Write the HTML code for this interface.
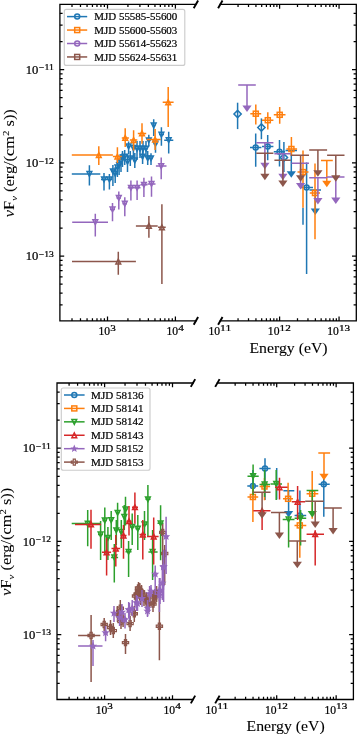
<!DOCTYPE html><html><head><meta charset="utf-8"><style>html,body{margin:0;padding:0;background:#fff;}svg{display:block;will-change:transform;}</style></head><body>
<svg width="357" height="734" viewBox="0 0 357 734">
<rect width="357" height="734" fill="#fff"/>
<g>
<path d="M89.4 165.2V185.4M71.8 174H100.3" stroke="#1f77b4" stroke-width="1.5" fill="none"/><path d="M87.03 171.62L91.78 171.62L89.4 176.38Z" stroke="#1f77b4" stroke-width="1.5" fill="none"/>
<path d="M104 173V190.4M101 179.5H107" stroke="#1f77b4" stroke-width="1.5" fill="none"/><path d="M101.62 177.12L106.38 177.12L104 181.88Z" stroke="#1f77b4" stroke-width="1.5" fill="none"/>
<path d="M109.4 174V189.5M107 179.5H112" stroke="#1f77b4" stroke-width="1.5" fill="none"/><path d="M107.03 177.12L111.78 177.12L109.4 181.88Z" stroke="#1f77b4" stroke-width="1.5" fill="none"/>
<path d="M112.9 165V186M111 171.3H115" stroke="#1f77b4" stroke-width="1.5" fill="none"/><path d="M110.53 168.93L115.28 168.93L112.9 173.68Z" stroke="#1f77b4" stroke-width="1.5" fill="none"/>
<path d="M115.2 167V183M113.5 173.6H117" stroke="#1f77b4" stroke-width="1.5" fill="none"/><path d="M112.83 171.22L117.58 171.22L115.2 175.97Z" stroke="#1f77b4" stroke-width="1.5" fill="none"/>
<path d="M117.4 160V177M116 167.4H119" stroke="#1f77b4" stroke-width="1.5" fill="none"/><path d="M115.03 165.03L119.78 165.03L117.4 169.78Z" stroke="#1f77b4" stroke-width="1.5" fill="none"/>
<path d="M119.1 158V175M117.5 165.2H120.5" stroke="#1f77b4" stroke-width="1.5" fill="none"/><path d="M116.72 162.82L121.47 162.82L119.1 167.57Z" stroke="#1f77b4" stroke-width="1.5" fill="none"/>
<path d="M121 154V172M119.5 161.8H122.5" stroke="#1f77b4" stroke-width="1.5" fill="none"/><path d="M118.62 159.43L123.38 159.43L121 164.18Z" stroke="#1f77b4" stroke-width="1.5" fill="none"/>
<path d="M122.5 151V167M121 157.7H124" stroke="#1f77b4" stroke-width="1.5" fill="none"/><path d="M120.12 155.32L124.88 155.32L122.5 160.07Z" stroke="#1f77b4" stroke-width="1.5" fill="none"/>
<path d="M124.7 150V165M123 156.6H126.5" stroke="#1f77b4" stroke-width="1.5" fill="none"/><path d="M122.33 154.22L127.08 154.22L124.7 158.97Z" stroke="#1f77b4" stroke-width="1.5" fill="none"/>
<path d="M127.5 154V172M126 161.8H129" stroke="#1f77b4" stroke-width="1.5" fill="none"/><path d="M125.12 159.43L129.88 159.43L127.5 164.18Z" stroke="#1f77b4" stroke-width="1.5" fill="none"/>
<path d="M128.6 141.4V154.3M127 146.5H130.5" stroke="#1f77b4" stroke-width="1.5" fill="none"/><path d="M126.22 144.12L130.97 144.12L128.6 148.88Z" stroke="#1f77b4" stroke-width="1.5" fill="none"/>
<path d="M130.3 151V166M129 158.3H132" stroke="#1f77b4" stroke-width="1.5" fill="none"/><path d="M127.93 155.93L132.68 155.93L130.3 160.68Z" stroke="#1f77b4" stroke-width="1.5" fill="none"/>
<path d="M133.4 141V158M132 148H135" stroke="#1f77b4" stroke-width="1.5" fill="none"/><path d="M131.03 145.62L135.78 145.62L133.4 150.38Z" stroke="#1f77b4" stroke-width="1.5" fill="none"/>
<path d="M134.8 153V168M133 160.5H136.5" stroke="#1f77b4" stroke-width="1.5" fill="none"/><path d="M132.43 158.12L137.18 158.12L134.8 162.88Z" stroke="#1f77b4" stroke-width="1.5" fill="none"/>
<path d="M137 141V160M135.5 148.7H138.5" stroke="#1f77b4" stroke-width="1.5" fill="none"/><path d="M134.62 146.32L139.38 146.32L137 151.07Z" stroke="#1f77b4" stroke-width="1.5" fill="none"/>
<path d="M140 141V158M138.5 148.7H141.5" stroke="#1f77b4" stroke-width="1.5" fill="none"/><path d="M137.62 146.32L142.38 146.32L140 151.07Z" stroke="#1f77b4" stroke-width="1.5" fill="none"/>
<path d="M142.6 149V164M141 156.6H144" stroke="#1f77b4" stroke-width="1.5" fill="none"/><path d="M140.22 154.22L144.97 154.22L142.6 158.97Z" stroke="#1f77b4" stroke-width="1.5" fill="none"/>
<path d="M143 141V157M141.5 148.7H144.5" stroke="#1f77b4" stroke-width="1.5" fill="none"/><path d="M140.62 146.32L145.38 146.32L143 151.07Z" stroke="#1f77b4" stroke-width="1.5" fill="none"/>
<path d="M146 141V156M144.5 148.7H147.5" stroke="#1f77b4" stroke-width="1.5" fill="none"/><path d="M143.62 146.32L148.38 146.32L146 151.07Z" stroke="#1f77b4" stroke-width="1.5" fill="none"/>
<path d="M147.7 151V165M146 158.3H149.5" stroke="#1f77b4" stroke-width="1.5" fill="none"/><path d="M145.32 155.93L150.07 155.93L147.7 160.68Z" stroke="#1f77b4" stroke-width="1.5" fill="none"/>
<path d="M148.8 134.7V146.5M147 140.3H150.5" stroke="#1f77b4" stroke-width="1.5" fill="none"/><path d="M146.43 137.93L151.18 137.93L148.8 142.68Z" stroke="#1f77b4" stroke-width="1.5" fill="none"/>
<path d="M151 153.2V165M149.5 158.3H152.5" stroke="#1f77b4" stroke-width="1.5" fill="none"/><path d="M148.62 155.93L153.38 155.93L151 160.68Z" stroke="#1f77b4" stroke-width="1.5" fill="none"/>
<path d="M153.7 119.2V136M152 125.5H155.5" stroke="#1f77b4" stroke-width="1.5" fill="none"/><path d="M151.32 123.12L156.07 123.12L153.7 127.88Z" stroke="#1f77b4" stroke-width="1.5" fill="none"/>
<path d="M155.5 138.8V152.8M153.5 143.7H157.5" stroke="#1f77b4" stroke-width="1.5" fill="none"/><path d="M153.12 141.32L157.88 141.32L155.5 146.07Z" stroke="#1f77b4" stroke-width="1.5" fill="none"/>
<path d="M161.4 127.3V145.8M159 134.6H164" stroke="#1f77b4" stroke-width="1.5" fill="none"/><path d="M159.03 132.22L163.78 132.22L161.4 136.97Z" stroke="#1f77b4" stroke-width="1.5" fill="none"/>
<path d="M168.7 131.8V153.5M164.2 140.2H173.3" stroke="#1f77b4" stroke-width="1.5" fill="none"/><path d="M166.32 137.82L171.07 137.82L168.7 142.57Z" stroke="#1f77b4" stroke-width="1.5" fill="none"/>
<path d="M98.8 146.2V165.1M71.8 155H112.9" stroke="#ff7f0e" stroke-width="1.5" fill="none"/><path d="M96.42 157.38L101.17 157.38L98.8 152.62Z" stroke="#ff7f0e" stroke-width="1.5" fill="none"/>
<path d="M117.4 147.2V162.9M112.9 156.6H121.8" stroke="#ff7f0e" stroke-width="1.5" fill="none"/><path d="M115.03 158.97L119.78 158.97L117.4 154.22Z" stroke="#ff7f0e" stroke-width="1.5" fill="none"/>
<path d="M125.2 128.3V147.1M121.8 137.9H128.9" stroke="#ff7f0e" stroke-width="1.5" fill="none"/><path d="M122.83 140.28L127.58 140.28L125.2 135.53Z" stroke="#ff7f0e" stroke-width="1.5" fill="none"/>
<path d="M133.6 130.3V150.5M129.9 140H137.3" stroke="#ff7f0e" stroke-width="1.5" fill="none"/><path d="M131.22 142.38L135.97 142.38L133.6 137.62Z" stroke="#ff7f0e" stroke-width="1.5" fill="none"/>
<path d="M142 123.2V143.7M137.8 133.4H146.2" stroke="#ff7f0e" stroke-width="1.5" fill="none"/><path d="M139.62 135.78L144.38 135.78L142 131.03Z" stroke="#ff7f0e" stroke-width="1.5" fill="none"/>
<path d="M155.1 129V150M146.7 139.5H160.7" stroke="#ff7f0e" stroke-width="1.5" fill="none"/><path d="M152.72 141.88L157.47 141.88L155.1 137.12Z" stroke="#ff7f0e" stroke-width="1.5" fill="none"/>
<path d="M168.2 87V127M162.7 102.3H173.6" stroke="#ff7f0e" stroke-width="1.5" fill="none"/><path d="M165.82 104.67L170.57 104.67L168.2 99.92Z" stroke="#ff7f0e" stroke-width="1.5" fill="none"/>
<path d="M95.3 213.7V236.5M72.2 222.2H108" stroke="#9467bd" stroke-width="1.5" fill="none"/><path d="M92.92 219.82L97.67 219.82L95.3 224.57Z" stroke="#9467bd" stroke-width="1.5" fill="none"/>
<path d="M112.5 203.1V221.2M110 209.4H115" stroke="#9467bd" stroke-width="1.5" fill="none"/><path d="M110.12 207.03L114.88 207.03L112.5 211.78Z" stroke="#9467bd" stroke-width="1.5" fill="none"/>
<path d="M118.8 191.4V209.4M116.5 198H121" stroke="#9467bd" stroke-width="1.5" fill="none"/><path d="M116.42 195.62L121.17 195.62L118.8 200.38Z" stroke="#9467bd" stroke-width="1.5" fill="none"/>
<path d="M124.8 197.3V216.3M122.5 203.7H127" stroke="#9467bd" stroke-width="1.5" fill="none"/><path d="M122.42 201.32L127.17 201.32L124.8 206.07Z" stroke="#9467bd" stroke-width="1.5" fill="none"/>
<path d="M130.9 180.5V200.6M127.8 187.8H134.1" stroke="#9467bd" stroke-width="1.5" fill="none"/><path d="M128.53 185.43L133.28 185.43L130.9 190.18Z" stroke="#9467bd" stroke-width="1.5" fill="none"/>
<path d="M137.1 180.4V200M134.1 187.8H140.5" stroke="#9467bd" stroke-width="1.5" fill="none"/><path d="M134.72 185.43L139.47 185.43L137.1 190.18Z" stroke="#9467bd" stroke-width="1.5" fill="none"/>
<path d="M143.9 177.7V197M140.5 184.8H147.5" stroke="#9467bd" stroke-width="1.5" fill="none"/><path d="M141.53 182.43L146.28 182.43L143.9 187.18Z" stroke="#9467bd" stroke-width="1.5" fill="none"/>
<path d="M151.5 176.6V196.7M147.5 183.9H155.5" stroke="#9467bd" stroke-width="1.5" fill="none"/><path d="M149.12 181.53L153.88 181.53L151.5 186.28Z" stroke="#9467bd" stroke-width="1.5" fill="none"/>
<path d="M161.2 157.6V179.2M155.9 166.1H166.5" stroke="#9467bd" stroke-width="1.5" fill="none"/><path d="M158.82 163.72L163.57 163.72L161.2 168.47Z" stroke="#9467bd" stroke-width="1.5" fill="none"/>
<path d="M118.3 251.7V274.7M72 261.5H135.9" stroke="#8c564b" stroke-width="1.5" fill="none"/><path d="M115.92 263.88L120.67 263.88L118.3 259.12Z" stroke="#8c564b" stroke-width="1.5" fill="none"/>
<path d="M148.9 216.1V237.8M135.9 225.9H157.7" stroke="#8c564b" stroke-width="1.5" fill="none"/><path d="M146.53 228.28L151.28 228.28L148.9 223.53Z" stroke="#8c564b" stroke-width="1.5" fill="none"/>
<path d="M161.9 204.2V284M158 227.3H165.7" stroke="#8c564b" stroke-width="1.5" fill="none"/><path d="M159.53 229.68L164.28 229.68L161.9 224.93Z" stroke="#8c564b" stroke-width="1.5" fill="none"/>
<path d="M285.5 150.5H297M291.3 150.5V173.7" stroke="#1f77b4" stroke-width="1.5" fill="none"/><path d="M286.7 171.2L295.9 171.2L291.3 177.7Z" fill="#1f77b4"/>
<path d="M309.5 190H321M315.3 190V211" stroke="#1f77b4" stroke-width="1.5" fill="none"/><path d="M310.7 208.5L319.9 208.5L315.3 215Z" fill="#1f77b4"/>
<path d="M303 207.7V224.7" stroke="#1f77b4" stroke-width="1.5"/>
<path d="M237.6 102.7V129.1" stroke="#1f77b4" stroke-width="1.5" fill="none"/><path d="M233.97 114L237.6 110.38L241.22 114L237.6 117.62Z" stroke="#1f77b4" stroke-width="1.5" fill="none"/>
<path d="M261.4 118.4V139.2" stroke="#1f77b4" stroke-width="1.5" fill="none"/><path d="M257.77 127.5L261.4 123.88L265.02 127.5L261.4 131.12Z" stroke="#1f77b4" stroke-width="1.5" fill="none"/>
<path d="M283.9 142V172" stroke="#1f77b4" stroke-width="1.5" fill="none"/><path d="M280.27 157.5L283.9 153.88L287.52 157.5L283.9 161.12Z" stroke="#1f77b4" stroke-width="1.5" fill="none"/>
<path d="M255.7 133.5V166.7M250 147.5H261.4" stroke="#1f77b4" stroke-width="1.5" fill="none"/><circle cx="255.7" cy="147.5" r="2.5" stroke="#1f77b4" stroke-width="1.5" fill="none"/>
<path d="M267.7 135V160.2M262 146.4H273.4" stroke="#1f77b4" stroke-width="1.5" fill="none"/><circle cx="267.7" cy="146.4" r="2.5" stroke="#1f77b4" stroke-width="1.5" fill="none"/>
<path d="M279.5 140.1V166.6M273.8 151.7H285.1" stroke="#1f77b4" stroke-width="1.5" fill="none"/><circle cx="279.5" cy="151.7" r="2.5" stroke="#1f77b4" stroke-width="1.5" fill="none"/>
<path d="M306.6 162.6V273.9M300.2 187.5H313" stroke="#1f77b4" stroke-width="1.5" fill="none"/><circle cx="306.6" cy="187.5" r="2.5" stroke="#1f77b4" stroke-width="1.5" fill="none"/>
<path d="M321 160.5H332.8M326.8 160.5V183.2" stroke="#ff7f0e" stroke-width="1.5" fill="none"/><path d="M322.2 180.7L331.4 180.7L326.8 187.2Z" fill="#ff7f0e"/>
<path d="M255.8 104.4V124.6M250.3 113.7H261.2" stroke="#ff7f0e" stroke-width="1.5" fill="none"/><rect x="253.3" y="111.2" width="5" height="5" stroke="#ff7f0e" stroke-width="1.5" fill="none"/>
<path d="M267.8 112.3V129.6M262 120.2H273.4" stroke="#ff7f0e" stroke-width="1.5" fill="none"/><rect x="265.3" y="117.7" width="5" height="5" stroke="#ff7f0e" stroke-width="1.5" fill="none"/>
<path d="M279.7 106.9V123.7M273.8 114.8H285.5" stroke="#ff7f0e" stroke-width="1.5" fill="none"/><rect x="277.2" y="112.3" width="5" height="5" stroke="#ff7f0e" stroke-width="1.5" fill="none"/>
<path d="M291.4 137V156M286.4 149H297.1" stroke="#ff7f0e" stroke-width="1.5" fill="none"/><rect x="288.9" y="146.5" width="5" height="5" stroke="#ff7f0e" stroke-width="1.5" fill="none"/>
<path d="M303 150.4V207.7M297.5 172.1H308.5" stroke="#ff7f0e" stroke-width="1.5" fill="none"/><rect x="300.5" y="169.6" width="5" height="5" stroke="#ff7f0e" stroke-width="1.5" fill="none"/>
<path d="M315 163.4V239.2M309.8 193H320" stroke="#ff7f0e" stroke-width="1.5" fill="none"/><rect x="312.5" y="190.5" width="5" height="5" stroke="#ff7f0e" stroke-width="1.5" fill="none"/>
<path d="M238.2 85.1H255.8M247 85.1V108" stroke="#9467bd" stroke-width="1.5" fill="none"/><path d="M242.4 105.5L251.6 105.5L247 112Z" fill="#9467bd"/>
<path d="M256.3 142.7H273.4M264.9 142.7V165.3" stroke="#9467bd" stroke-width="1.5" fill="none"/><path d="M260.3 162.8L269.5 162.8L264.9 169.3Z" fill="#9467bd"/>
<path d="M274.4 153.8H290.8M282.9 153.8V176.2" stroke="#9467bd" stroke-width="1.5" fill="none"/><path d="M278.3 173.7L287.5 173.7L282.9 180.2Z" fill="#9467bd"/>
<path d="M291.5 163.3H309M300.6 163.3V185.5" stroke="#9467bd" stroke-width="1.5" fill="none"/><path d="M296 183L305.2 183L300.6 189.5Z" fill="#9467bd"/>
<path d="M309.2 177.8H327M317.9 177.8V200.5" stroke="#9467bd" stroke-width="1.5" fill="none"/><path d="M313.3 198L322.5 198L317.9 204.5Z" fill="#9467bd"/>
<path d="M327 177H344.5M335.8 177V199.9" stroke="#9467bd" stroke-width="1.5" fill="none"/><path d="M331.2 197.4L340.4 197.4L335.8 203.9Z" fill="#9467bd"/>
<path d="M256.3 153.3H273.4M264.9 153.3V176.2" stroke="#8c564b" stroke-width="1.5" fill="none"/><path d="M260.3 173.7L269.5 173.7L264.9 180.2Z" fill="#8c564b"/>
<path d="M274.4 160.3H290.8M282.9 160.3V182.9" stroke="#8c564b" stroke-width="1.5" fill="none"/><path d="M278.3 180.4L287.5 180.4L282.9 186.9Z" fill="#8c564b"/>
<path d="M290.8 155.3H309M300.6 155.3V177.7" stroke="#8c564b" stroke-width="1.5" fill="none"/><path d="M296 175.2L305.2 175.2L300.6 181.7Z" fill="#8c564b"/>
<path d="M309.2 150.1H327.1M317.9 150.1V172.8" stroke="#8c564b" stroke-width="1.5" fill="none"/><path d="M313.3 170.3L322.5 170.3L317.9 176.8Z" fill="#8c564b"/>
<path d="M327.1 155.3H344.5M335.8 155.3V177.7" stroke="#8c564b" stroke-width="1.5" fill="none"/><path d="M331.2 175.2L340.4 175.2L335.8 181.7Z" fill="#8c564b"/>
</g>
<g>
<path d="M87.7 510V546.2M71.7 523.6H100" stroke="#2ca02c" stroke-width="1.5" fill="none"/><path d="M85.33 521.23L90.08 521.23L87.7 525.98Z" stroke="#2ca02c" stroke-width="1.5" fill="none"/>
<path d="M114.3 544V582.6M111.1 557.4H118.1" stroke="#2ca02c" stroke-width="1.5" fill="none"/><path d="M111.92 555.02L116.67 555.02L114.3 559.77Z" stroke="#2ca02c" stroke-width="1.5" fill="none"/>
<path d="M128.6 541V577M125.5 551.8H131.5" stroke="#2ca02c" stroke-width="1.5" fill="none"/><path d="M126.22 549.42L130.97 549.42L128.6 554.17Z" stroke="#2ca02c" stroke-width="1.5" fill="none"/>
<path d="M100.6 521V560M98 534.5H103" stroke="#2ca02c" stroke-width="1.5" fill="none"/><path d="M98.22 532.12L102.97 532.12L100.6 536.88Z" stroke="#2ca02c" stroke-width="1.5" fill="none"/>
<path d="M104.8 507.6V555M102.5 520.5H107" stroke="#2ca02c" stroke-width="1.5" fill="none"/><path d="M102.42 518.12L107.17 518.12L104.8 522.88Z" stroke="#2ca02c" stroke-width="1.5" fill="none"/>
<path d="M107.9 527V560M106 537.8H110" stroke="#2ca02c" stroke-width="1.5" fill="none"/><path d="M105.53 535.42L110.28 535.42L107.9 540.17Z" stroke="#2ca02c" stroke-width="1.5" fill="none"/>
<path d="M111.2 511V540M109.5 520.2H113" stroke="#2ca02c" stroke-width="1.5" fill="none"/><path d="M108.83 517.83L113.58 517.83L111.2 522.58Z" stroke="#2ca02c" stroke-width="1.5" fill="none"/>
<path d="M116.3 520V545M114.5 530.3H118" stroke="#2ca02c" stroke-width="1.5" fill="none"/><path d="M113.92 527.92L118.67 527.92L116.3 532.67Z" stroke="#2ca02c" stroke-width="1.5" fill="none"/>
<path d="M117.6 502.7V530M116 512.8H119.5" stroke="#2ca02c" stroke-width="1.5" fill="none"/><path d="M115.22 510.42L119.97 510.42L117.6 515.17Z" stroke="#2ca02c" stroke-width="1.5" fill="none"/>
<path d="M121.3 520V548M119.5 531.9H123" stroke="#2ca02c" stroke-width="1.5" fill="none"/><path d="M118.92 529.52L123.67 529.52L121.3 534.27Z" stroke="#2ca02c" stroke-width="1.5" fill="none"/>
<path d="M124.3 505V530M123 517H126" stroke="#2ca02c" stroke-width="1.5" fill="none"/><path d="M121.92 514.62L126.67 514.62L124.3 519.38Z" stroke="#2ca02c" stroke-width="1.5" fill="none"/>
<path d="M125.5 496.8V525.4M124 509.4H127.5" stroke="#2ca02c" stroke-width="1.5" fill="none"/><path d="M123.12 507.02L127.88 507.02L125.5 511.77Z" stroke="#2ca02c" stroke-width="1.5" fill="none"/>
<path d="M132.2 513.6V545M130 527H134.5" stroke="#2ca02c" stroke-width="1.5" fill="none"/><path d="M129.82 524.62L134.57 524.62L132.2 529.38Z" stroke="#2ca02c" stroke-width="1.5" fill="none"/>
<path d="M137.8 515V550M135.5 528.7H140" stroke="#2ca02c" stroke-width="1.5" fill="none"/><path d="M135.43 526.33L140.18 526.33L137.8 531.08Z" stroke="#2ca02c" stroke-width="1.5" fill="none"/>
<path d="M144.5 511.1V540M142 524.5H147" stroke="#2ca02c" stroke-width="1.5" fill="none"/><path d="M142.12 522.12L146.88 522.12L144.5 526.88Z" stroke="#2ca02c" stroke-width="1.5" fill="none"/>
<path d="M147.9 485V537M145.5 499.3H150.5" stroke="#2ca02c" stroke-width="1.5" fill="none"/><path d="M145.53 496.93L150.28 496.93L147.9 501.68Z" stroke="#2ca02c" stroke-width="1.5" fill="none"/>
<path d="M152.6 530V580M148.4 552H157.6" stroke="#2ca02c" stroke-width="1.5" fill="none"/><path d="M150.22 549.62L154.97 549.62L152.6 554.38Z" stroke="#2ca02c" stroke-width="1.5" fill="none"/>
<path d="M160.6 505.2V560.3M157.5 523.3H163.5" stroke="#2ca02c" stroke-width="1.5" fill="none"/><path d="M158.22 520.92L162.97 520.92L160.6 525.67Z" stroke="#2ca02c" stroke-width="1.5" fill="none"/>
<path d="M91 509.7V548.7M75 524.4H101.1" stroke="#d62728" stroke-width="1.5" fill="none"/><path d="M88.62 526.77L93.38 526.77L91 522.02Z" stroke="#d62728" stroke-width="1.5" fill="none"/>
<path d="M106.6 538V575.6M102 552.3H111.1" stroke="#d62728" stroke-width="1.5" fill="none"/><path d="M104.22 554.67L108.97 554.67L106.6 549.92Z" stroke="#d62728" stroke-width="1.5" fill="none"/>
<path d="M115.8 535V566.5M111.5 548.5H120.2" stroke="#d62728" stroke-width="1.5" fill="none"/><path d="M113.42 550.88L118.17 550.88L115.8 546.12Z" stroke="#d62728" stroke-width="1.5" fill="none"/>
<path d="M123.5 525V558.8M120.5 535.5H126.5" stroke="#d62728" stroke-width="1.5" fill="none"/><path d="M121.12 537.88L125.88 537.88L123.5 533.12Z" stroke="#d62728" stroke-width="1.5" fill="none"/>
<path d="M129 506V535.5M126.5 521.2H131.5" stroke="#d62728" stroke-width="1.5" fill="none"/><path d="M126.62 523.58L131.38 523.58L129 518.83Z" stroke="#d62728" stroke-width="1.5" fill="none"/>
<path d="M134.9 492.6V523.7M132 507.2H138" stroke="#d62728" stroke-width="1.5" fill="none"/><path d="M132.53 509.57L137.28 509.57L134.9 504.82Z" stroke="#d62728" stroke-width="1.5" fill="none"/>
<path d="M142.8 520V559.5M139.5 534.6H146" stroke="#d62728" stroke-width="1.5" fill="none"/><path d="M140.43 536.98L145.18 536.98L142.8 532.23Z" stroke="#d62728" stroke-width="1.5" fill="none"/>
<path d="M153.7 517.4V564.4M147 536.5H158.6" stroke="#d62728" stroke-width="1.5" fill="none"/><path d="M151.32 538.88L156.07 538.88L153.7 534.12Z" stroke="#d62728" stroke-width="1.5" fill="none"/>
<path d="M91.1 615V682M78.1 635.5H100.3" stroke="#8c564b" stroke-width="1.5" fill="none"/><path d="M90.01 632.38H92.19V634.41H94.22V636.59H92.19V638.62H90.01V636.59H87.98V634.41H90.01Z" fill="none" stroke="#8c564b" stroke-width="1.2"/>
<path d="M104.2 618V631M102 624.5H106.5" stroke="#8c564b" stroke-width="1.5" fill="none"/><path d="M103.11 621.38H105.29V623.41H107.32V625.59H105.29V627.62H103.11V625.59H101.08V623.41H103.11Z" fill="none" stroke="#8c564b" stroke-width="1.2"/>
<path d="M110.5 620V635M108.5 627.5H112.5" stroke="#8c564b" stroke-width="1.5" fill="none"/><path d="M109.41 624.38H111.59V626.41H113.62V628.59H111.59V630.62H109.41V628.59H107.38V626.41H109.41Z" fill="none" stroke="#8c564b" stroke-width="1.2"/>
<path d="M113.3 623V638M111.5 630.6H115" stroke="#8c564b" stroke-width="1.5" fill="none"/><path d="M112.21 627.48H114.39V629.51H116.42V631.69H114.39V633.72H112.21V631.69H110.18V629.51H112.21Z" fill="none" stroke="#8c564b" stroke-width="1.2"/>
<path d="M117.5 606V622M115.5 613.8H119.5" stroke="#8c564b" stroke-width="1.5" fill="none"/><path d="M116.41 610.68H118.59V612.71H120.62V614.89H118.59V616.92H116.41V614.89H114.38V612.71H116.41Z" fill="none" stroke="#8c564b" stroke-width="1.2"/>
<path d="M120.3 600V616M118.5 608.2H122" stroke="#8c564b" stroke-width="1.5" fill="none"/><path d="M119.21 605.08H121.39V607.11H123.42V609.29H121.39V611.32H119.21V609.29H117.18V607.11H119.21Z" fill="none" stroke="#8c564b" stroke-width="1.2"/>
<path d="M121 614V629M119 621.5H123" stroke="#8c564b" stroke-width="1.5" fill="none"/><path d="M119.91 618.38H122.09V620.41H124.12V622.59H122.09V624.62H119.91V622.59H117.88V620.41H119.91Z" fill="none" stroke="#8c564b" stroke-width="1.2"/>
<path d="M123.1 612V627M121 619.4H125" stroke="#8c564b" stroke-width="1.5" fill="none"/><path d="M122.01 616.28H124.19V618.31H126.22V620.49H124.19V622.52H122.01V620.49H119.98V618.31H122.01Z" fill="none" stroke="#8c564b" stroke-width="1.2"/>
<path d="M125.5 634V654M123.5 642.6H127.5" stroke="#8c564b" stroke-width="1.5" fill="none"/><path d="M124.41 639.48H126.59V641.51H128.62V643.69H126.59V645.72H124.41V643.69H122.38V641.51H124.41Z" fill="none" stroke="#8c564b" stroke-width="1.2"/>
<path d="M130.1 616V631M128 623.6H132" stroke="#8c564b" stroke-width="1.5" fill="none"/><path d="M129.01 620.48H131.19V622.51H133.22V624.69H131.19V626.72H129.01V624.69H126.98V622.51H129.01Z" fill="none" stroke="#8c564b" stroke-width="1.2"/>
<path d="M134.3 606V622M132.5 613.8H136.5" stroke="#8c564b" stroke-width="1.5" fill="none"/><path d="M133.21 610.68H135.39V612.71H137.42V614.89H135.39V616.92H133.21V614.89H131.18V612.71H133.21Z" fill="none" stroke="#8c564b" stroke-width="1.2"/>
<path d="M137.1 586V602M135 594.2H139" stroke="#8c564b" stroke-width="1.5" fill="none"/><path d="M136.01 591.08H138.19V593.11H140.22V595.29H138.19V597.32H136.01V595.29H133.98V593.11H136.01Z" fill="none" stroke="#8c564b" stroke-width="1.2"/>
<path d="M139.8 583V599M138 590.8H142" stroke="#8c564b" stroke-width="1.5" fill="none"/><path d="M138.71 587.68H140.89V589.71H142.92V591.89H140.89V593.92H138.71V591.89H136.68V589.71H138.71Z" fill="none" stroke="#8c564b" stroke-width="1.2"/>
<path d="M140.6 589V605M139 597H143" stroke="#8c564b" stroke-width="1.5" fill="none"/><path d="M139.51 593.88H141.69V595.91H143.72V598.09H141.69V600.12H139.51V598.09H137.48V595.91H139.51Z" fill="none" stroke="#8c564b" stroke-width="1.2"/>
<path d="M146.2 592V608M144 599.8H148" stroke="#8c564b" stroke-width="1.5" fill="none"/><path d="M145.11 596.68H147.29V598.71H149.32V600.89H147.29V602.92H145.11V600.89H143.08V598.71H145.11Z" fill="none" stroke="#8c564b" stroke-width="1.2"/>
<path d="M146.8 593V609M145 600.6H149" stroke="#8c564b" stroke-width="1.5" fill="none"/><path d="M145.71 597.48H147.89V599.51H149.92V601.69H147.89V603.72H145.71V601.69H143.68V599.51H145.71Z" fill="none" stroke="#8c564b" stroke-width="1.2"/>
<path d="M153.8 590V606M152 597.8H156" stroke="#8c564b" stroke-width="1.5" fill="none"/><path d="M152.71 594.68H154.89V596.71H156.92V598.89H154.89V600.92H152.71V598.89H150.68V596.71H152.71Z" fill="none" stroke="#8c564b" stroke-width="1.2"/>
<path d="M156.6 586V602M154.5 593.6H158.5" stroke="#8c564b" stroke-width="1.5" fill="none"/><path d="M155.51 590.48H157.69V592.51H159.72V594.69H157.69V596.72H155.51V594.69H153.48V592.51H155.51Z" fill="none" stroke="#8c564b" stroke-width="1.2"/>
<path d="M159.4 587V660.2M157.5 626.3H161.5" stroke="#8c564b" stroke-width="1.5" fill="none"/><path d="M158.31 623.18H160.49V625.21H162.52V627.39H160.49V629.42H158.31V627.39H156.28V625.21H158.31Z" fill="none" stroke="#8c564b" stroke-width="1.2"/>
<path d="M135.5 589V604M133.5 596H137.5" stroke="#8c564b" stroke-width="1.5" fill="none"/><path d="M134.41 592.88H136.59V594.91H138.62V597.09H136.59V599.12H134.41V597.09H132.38V594.91H134.41Z" fill="none" stroke="#8c564b" stroke-width="1.2"/>
<path d="M138.5 582V596M136.5 588H140.5" stroke="#8c564b" stroke-width="1.5" fill="none"/><path d="M137.41 584.88H139.59V586.91H141.62V589.09H139.59V591.12H137.41V589.09H135.38V586.91H137.41Z" fill="none" stroke="#8c564b" stroke-width="1.2"/>
<path d="M141.5 585V600M139.5 592H143.5" stroke="#8c564b" stroke-width="1.5" fill="none"/><path d="M140.41 588.88H142.59V590.91H144.62V593.09H142.59V595.12H140.41V593.09H138.38V590.91H140.41Z" fill="none" stroke="#8c564b" stroke-width="1.2"/>
<path d="M144 590V606M142 597H146" stroke="#8c564b" stroke-width="1.5" fill="none"/><path d="M142.91 593.88H145.09V595.91H147.12V598.09H145.09V600.12H142.91V598.09H140.88V595.91H142.91Z" fill="none" stroke="#8c564b" stroke-width="1.2"/>
<path d="M149 596V612M147 603H151" stroke="#8c564b" stroke-width="1.5" fill="none"/><path d="M147.91 599.88H150.09V601.91H152.12V604.09H150.09V606.12H147.91V604.09H145.88V601.91H147.91Z" fill="none" stroke="#8c564b" stroke-width="1.2"/>
<path d="M153 597V612M151 604H155" stroke="#8c564b" stroke-width="1.5" fill="none"/><path d="M151.91 600.88H154.09V602.91H156.12V605.09H154.09V607.12H151.91V605.09H149.88V602.91H151.91Z" fill="none" stroke="#8c564b" stroke-width="1.2"/>
<path d="M155 589V604M153 596H157" stroke="#8c564b" stroke-width="1.5" fill="none"/><path d="M153.91 592.88H156.09V594.91H158.12V597.09H156.09V599.12H153.91V597.09H151.88V594.91H153.91Z" fill="none" stroke="#8c564b" stroke-width="1.2"/>
<path d="M162.7 524V590M160.5 532.4H164.5" stroke="#8c564b" stroke-width="1.5" fill="none"/><path d="M161.61 529.28H163.79V531.31H165.82V533.49H163.79V535.52H161.61V533.49H159.58V531.31H161.61Z" fill="none" stroke="#8c564b" stroke-width="1.2"/>
<path d="M164.7 545V585M162.5 553.5H166.5" stroke="#8c564b" stroke-width="1.5" fill="none"/><path d="M163.61 550.38H165.79V552.41H167.82V554.59H165.79V556.62H163.61V554.59H161.58V552.41H163.61Z" fill="none" stroke="#8c564b" stroke-width="1.2"/>
<path d="M93 640V666M78.1 646H102.5" stroke="#9467bd" stroke-width="1.5" fill="none"/><path d="M93 643.2L93.74 644.98L95.66 645.13L94.2 646.39L94.65 648.27L93 647.26L91.35 648.27L91.8 646.39L90.34 645.13L92.26 644.98Z" fill="none" stroke="#9467bd" stroke-width="1.2" stroke-linejoin="miter"/>
<path d="M105.6 626V641.3M103 632.7H108" stroke="#9467bd" stroke-width="1.5" fill="none"/><path d="M105.6 629.9L106.34 631.68L108.26 631.83L106.8 633.09L107.25 634.97L105.6 633.96L103.95 634.97L104.4 633.09L102.94 631.83L104.86 631.68Z" fill="none" stroke="#9467bd" stroke-width="1.2" stroke-linejoin="miter"/>
<path d="M114 606V622M112 613.1H116" stroke="#9467bd" stroke-width="1.5" fill="none"/><path d="M114 610.3L114.74 612.08L116.66 612.23L115.2 613.49L115.65 615.37L114 614.36L112.35 615.37L112.8 613.49L111.34 612.23L113.26 612.08Z" fill="none" stroke="#9467bd" stroke-width="1.2" stroke-linejoin="miter"/>
<path d="M119.6 610V626M117.5 617.3H121.5" stroke="#9467bd" stroke-width="1.5" fill="none"/><path d="M119.6 614.5L120.34 616.28L122.26 616.43L120.8 617.69L121.25 619.57L119.6 618.56L117.95 619.57L118.4 617.69L116.94 616.43L118.86 616.28Z" fill="none" stroke="#9467bd" stroke-width="1.2" stroke-linejoin="miter"/>
<path d="M128.7 602V618M126.5 609.6H131" stroke="#9467bd" stroke-width="1.5" fill="none"/><path d="M128.7 606.8L129.44 608.58L131.36 608.73L129.9 609.99L130.35 611.87L128.7 610.86L127.05 611.87L127.5 609.99L126.04 608.73L127.96 608.58Z" fill="none" stroke="#9467bd" stroke-width="1.2" stroke-linejoin="miter"/>
<path d="M132.2 600V616M130 608.2H134.5" stroke="#9467bd" stroke-width="1.5" fill="none"/><path d="M132.2 605.4L132.94 607.18L134.86 607.33L133.4 608.59L133.85 610.47L132.2 609.46L130.55 610.47L131 608.59L129.54 607.33L131.46 607.18Z" fill="none" stroke="#9467bd" stroke-width="1.2" stroke-linejoin="miter"/>
<path d="M136.4 595V611M134 602.6H138.5" stroke="#9467bd" stroke-width="1.5" fill="none"/><path d="M136.4 599.8L137.14 601.58L139.06 601.73L137.6 602.99L138.05 604.87L136.4 603.86L134.75 604.87L135.2 602.99L133.74 601.73L135.66 601.58Z" fill="none" stroke="#9467bd" stroke-width="1.2" stroke-linejoin="miter"/>
<path d="M142 590V607M140 598.4H144" stroke="#9467bd" stroke-width="1.5" fill="none"/><path d="M142 595.6L142.74 597.38L144.66 597.53L143.2 598.79L143.65 600.67L142 599.66L140.35 600.67L140.8 598.79L139.34 597.53L141.26 597.38Z" fill="none" stroke="#9467bd" stroke-width="1.2" stroke-linejoin="miter"/>
<path d="M147.6 600V616M145.5 608.2H149.5" stroke="#9467bd" stroke-width="1.5" fill="none"/><path d="M147.6 605.4L148.34 607.18L150.26 607.33L148.8 608.59L149.25 610.47L147.6 609.46L145.95 610.47L146.4 608.59L144.94 607.33L146.86 607.18Z" fill="none" stroke="#9467bd" stroke-width="1.2" stroke-linejoin="miter"/>
<path d="M149.6 586V602M147.5 593.6H151.5" stroke="#9467bd" stroke-width="1.5" fill="none"/><path d="M149.6 590.8L150.34 592.58L152.26 592.73L150.8 593.99L151.25 595.87L149.6 594.86L147.95 595.87L148.4 593.99L146.94 592.73L148.86 592.58Z" fill="none" stroke="#9467bd" stroke-width="1.2" stroke-linejoin="miter"/>
<path d="M155.2 565.6V595M153 574H157.5" stroke="#9467bd" stroke-width="1.5" fill="none"/><path d="M155.2 571.2L155.94 572.98L157.86 573.13L156.4 574.39L156.85 576.27L155.2 575.26L153.55 576.27L154 574.39L152.54 573.13L154.46 572.98Z" fill="none" stroke="#9467bd" stroke-width="1.2" stroke-linejoin="miter"/>
<path d="M159.4 584V601M157.5 592.2H161.5" stroke="#9467bd" stroke-width="1.5" fill="none"/><path d="M159.4 589.4L160.14 591.18L162.06 591.33L160.6 592.59L161.05 594.47L159.4 593.46L157.75 594.47L158.2 592.59L156.74 591.33L158.66 591.18Z" fill="none" stroke="#9467bd" stroke-width="1.2" stroke-linejoin="miter"/>
<path d="M163.6 550V602M161.5 566.3H165.5" stroke="#9467bd" stroke-width="1.5" fill="none"/><path d="M163.6 563.5L164.34 565.28L166.26 565.43L164.8 566.69L165.25 568.57L163.6 567.56L161.95 568.57L162.4 566.69L160.94 565.43L162.86 565.28Z" fill="none" stroke="#9467bd" stroke-width="1.2" stroke-linejoin="miter"/>
<path d="M166.1 516.7V574M164 536.5H168.5" stroke="#9467bd" stroke-width="1.5" fill="none"/><path d="M166.1 533.7L166.84 535.48L168.76 535.63L167.3 536.89L167.75 538.77L166.1 537.76L164.45 538.77L164.9 536.89L163.44 535.63L165.36 535.48Z" fill="none" stroke="#9467bd" stroke-width="1.2" stroke-linejoin="miter"/>
<path d="M163.4 555V590M161 567H165.5" stroke="#9467bd" stroke-width="1.5" fill="none"/><path d="M163.4 564.2L164.14 565.98L166.06 566.13L164.6 567.39L165.05 569.27L163.4 568.26L161.75 569.27L162.2 567.39L160.74 566.13L162.66 565.98Z" fill="none" stroke="#9467bd" stroke-width="1.2" stroke-linejoin="miter"/>
<path d="M125 612.7V628.4M123 619.6H127" stroke="#9467bd" stroke-width="1.5" fill="none"/><path d="M125 616.8L125.74 618.58L127.66 618.73L126.2 619.99L126.65 621.87L125 620.86L123.35 621.87L123.8 619.99L122.34 618.73L124.26 618.58Z" fill="none" stroke="#9467bd" stroke-width="1.2" stroke-linejoin="miter"/>
<path d="M129.4 603V620.6M127.5 609.8H131.5" stroke="#9467bd" stroke-width="1.5" fill="none"/><path d="M129.4 607L130.14 608.78L132.06 608.93L130.6 610.19L131.05 612.07L129.4 611.06L127.75 612.07L128.2 610.19L126.74 608.93L128.66 608.78Z" fill="none" stroke="#9467bd" stroke-width="1.2" stroke-linejoin="miter"/>
<path d="M137.5 596V611M135.5 603.5H139.5" stroke="#9467bd" stroke-width="1.5" fill="none"/><path d="M137.5 600.7L138.24 602.48L140.16 602.63L138.7 603.89L139.15 605.77L137.5 604.76L135.85 605.77L136.3 603.89L134.84 602.63L136.76 602.48Z" fill="none" stroke="#9467bd" stroke-width="1.2" stroke-linejoin="miter"/>
<path d="M147.5 605V617M145.5 611H149.5" stroke="#9467bd" stroke-width="1.5" fill="none"/><path d="M147.5 608.2L148.24 609.98L150.16 610.13L148.7 611.39L149.15 613.27L147.5 612.26L145.85 613.27L146.3 611.39L144.84 610.13L146.76 609.98Z" fill="none" stroke="#9467bd" stroke-width="1.2" stroke-linejoin="miter"/>
<path d="M151 585V597M149 591H153" stroke="#9467bd" stroke-width="1.5" fill="none"/><path d="M151 588.2L151.74 589.98L153.66 590.13L152.2 591.39L152.65 593.27L151 592.26L149.35 593.27L149.8 591.39L148.34 590.13L150.26 589.98Z" fill="none" stroke="#9467bd" stroke-width="1.2" stroke-linejoin="miter"/>
<path d="M160 578V604M158 590H162" stroke="#9467bd" stroke-width="1.5" fill="none"/><path d="M160 587.2L160.74 588.98L162.66 589.13L161.2 590.39L161.65 592.27L160 591.26L158.35 592.27L158.8 590.39L157.34 589.13L159.26 588.98Z" fill="none" stroke="#9467bd" stroke-width="1.2" stroke-linejoin="miter"/>
<path d="M122 604V622M120 612H124" stroke="#9467bd" stroke-width="1.5" fill="none"/><path d="M122 609.2L122.74 610.98L124.66 611.13L123.2 612.39L123.65 614.27L122 613.26L120.35 614.27L120.8 612.39L119.34 611.13L121.26 610.98Z" fill="none" stroke="#9467bd" stroke-width="1.2" stroke-linejoin="miter"/>
<path d="M159.4 578V612M157.5 595H161.5" stroke="#9467bd" stroke-width="1.5" fill="none"/><path d="M159.4 592.2L160.14 593.98L162.06 594.13L160.6 595.39L161.05 597.27L159.4 596.26L157.75 597.27L158.2 595.39L156.74 594.13L158.66 593.98Z" fill="none" stroke="#9467bd" stroke-width="1.2" stroke-linejoin="miter"/>
<path d="M162.4 566V600M160.5 583H164.5" stroke="#9467bd" stroke-width="1.5" fill="none"/><path d="M162.4 580.2L163.14 581.98L165.06 582.13L163.6 583.39L164.05 585.27L162.4 584.26L160.75 585.27L161.2 583.39L159.74 582.13L161.66 581.98Z" fill="none" stroke="#9467bd" stroke-width="1.2" stroke-linejoin="miter"/>
<path d="M276.7 468V499.5" stroke="#1f77b4" stroke-width="1.5"/>
<path d="M283.4 490.7H294.3M288.6 490.7V513.6" stroke="#1f77b4" stroke-width="1.5" fill="none"/><path d="M284 511.1L293.2 511.1L288.6 517.6Z" fill="#1f77b4"/>
<path d="M265 458.2V500M259.4 468.5H270.6" stroke="#1f77b4" stroke-width="1.5" fill="none"/><circle cx="265" cy="468.5" r="2.5" stroke="#1f77b4" stroke-width="1.5" fill="none"/>
<path d="M252.9 470V500M247.3 485.9H258.2" stroke="#1f77b4" stroke-width="1.5" fill="none"/><circle cx="252.9" cy="485.9" r="2.5" stroke="#1f77b4" stroke-width="1.5" fill="none"/>
<path d="M299.9 490.4V530M294.6 515.5H306.2" stroke="#1f77b4" stroke-width="1.5" fill="none"/><circle cx="299.9" cy="515.5" r="2.5" stroke="#1f77b4" stroke-width="1.5" fill="none"/>
<path d="M323.8 478V516.7M318.6 484.3H329.7" stroke="#1f77b4" stroke-width="1.5" fill="none"/><circle cx="323.8" cy="484.3" r="2.5" stroke="#1f77b4" stroke-width="1.5" fill="none"/>
<path d="M318.3 453H330.1M324 453V476.3" stroke="#ff7f0e" stroke-width="1.5" fill="none"/><path d="M319.4 473.8L328.6 473.8L324 480.3Z" fill="#ff7f0e"/>
<path d="M252.9 485V522M247.5 497H258.2" stroke="#ff7f0e" stroke-width="1.5" fill="none"/><rect x="250.4" y="494.5" width="5" height="5" stroke="#ff7f0e" stroke-width="1.5" fill="none"/>
<path d="M264.5 478V500.3M259.6 486.5H270.1" stroke="#ff7f0e" stroke-width="1.5" fill="none"/><rect x="262" y="484" width="5" height="5" stroke="#ff7f0e" stroke-width="1.5" fill="none"/>
<path d="M288.1 482.8V499.5M283 498.8H293" stroke="#ff7f0e" stroke-width="1.5" fill="none"/><rect x="285.6" y="496.3" width="5" height="5" stroke="#ff7f0e" stroke-width="1.5" fill="none"/>
<path d="M299.8 520V557.7M294.5 525.4H306.3" stroke="#ff7f0e" stroke-width="1.5" fill="none"/><rect x="297.3" y="522.9" width="5" height="5" stroke="#ff7f0e" stroke-width="1.5" fill="none"/>
<path d="M312.2 471V518.7M306.6 493.7H318.3" stroke="#ff7f0e" stroke-width="1.5" fill="none"/><rect x="309.7" y="491.2" width="5" height="5" stroke="#ff7f0e" stroke-width="1.5" fill="none"/>
<path d="M306.6 490.4H318.3M312.3 490.4V513.4" stroke="#2ca02c" stroke-width="1.5" fill="none"/><path d="M307.7 510.9L316.9 510.9L312.3 517.4Z" fill="#2ca02c"/>
<path d="M253.1 464.5V495M247.5 476.2H258.7" stroke="#2ca02c" stroke-width="1.5" fill="none"/><path d="M250.72 473.82L255.47 473.82L253.1 478.57Z" stroke="#2ca02c" stroke-width="1.5" fill="none"/>
<path d="M264.6 470V497M259.5 484.5H270" stroke="#2ca02c" stroke-width="1.5" fill="none"/><path d="M262.23 482.12L266.98 482.12L264.6 486.88Z" stroke="#2ca02c" stroke-width="1.5" fill="none"/>
<path d="M276.2 470.1V500M270.5 484H282" stroke="#2ca02c" stroke-width="1.5" fill="none"/><path d="M273.82 481.62L278.57 481.62L276.2 486.38Z" stroke="#2ca02c" stroke-width="1.5" fill="none"/>
<path d="M288.6 517V547.5M282.7 519.5H294.5" stroke="#2ca02c" stroke-width="1.5" fill="none"/><path d="M286.23 517.12L290.98 517.12L288.6 521.88Z" stroke="#2ca02c" stroke-width="1.5" fill="none"/>
<path d="M300.6 510V545.4M294.6 518.3H306.2" stroke="#2ca02c" stroke-width="1.5" fill="none"/><path d="M298.23 515.92L302.98 515.92L300.6 520.67Z" stroke="#2ca02c" stroke-width="1.5" fill="none"/>
<path d="M279.5 477.7V499.4M275 487.3H287.6" stroke="#d62728" stroke-width="1.5" fill="none"/><path d="M277.12 489.68L281.88 489.68L279.5 484.93Z" stroke="#d62728" stroke-width="1.5" fill="none"/>
<path d="M262.1 508.7V530M253.3 510.8H270.5" stroke="#d62728" stroke-width="1.5" fill="none"/><path d="M259.73 513.17L264.48 513.17L262.1 508.43Z" stroke="#d62728" stroke-width="1.5" fill="none"/>
<path d="M297.6 486.1V520M291.8 501.8H305.2" stroke="#d62728" stroke-width="1.5" fill="none"/><path d="M295.23 504.18L299.98 504.18L297.6 499.43Z" stroke="#d62728" stroke-width="1.5" fill="none"/>
<path d="M315.2 530.3V565.6M306.6 534.2H324" stroke="#d62728" stroke-width="1.5" fill="none"/><path d="M312.82 536.58L317.57 536.58L315.2 531.83Z" stroke="#d62728" stroke-width="1.5" fill="none"/>
<path d="M253.3 492.2H270.5M262.1 492.2V514.8" stroke="#8c564b" stroke-width="1.5" fill="none"/><path d="M257.5 512.3L266.7 512.3L262.1 518.8Z" fill="#8c564b"/>
<path d="M271 512.5H287M279.4 512.5V535.1" stroke="#8c564b" stroke-width="1.5" fill="none"/><path d="M274.8 532.6L284 532.6L279.4 539.1Z" fill="#8c564b"/>
<path d="M288.7 541H306.1M297.3 541V564.3" stroke="#8c564b" stroke-width="1.5" fill="none"/><path d="M292.7 561.8L301.9 561.8L297.3 568.3Z" fill="#8c564b"/>
<path d="M305.2 501.3H323.8M315.2 501.3V524.1" stroke="#8c564b" stroke-width="1.5" fill="none"/><path d="M310.6 521.6L319.8 521.6L315.2 528.1Z" fill="#8c564b"/>
<path d="M323.9 508.1H341.8M333.1 508.1V530.4" stroke="#8c564b" stroke-width="1.5" fill="none"/><path d="M328.5 527.9L337.7 527.9L333.1 534.4Z" fill="#8c564b"/>
</g>
<g transform="translate(0,0)">
<path d="M195.9 4.4 H59.9 M59.9 4.4 V320.9 H195.9" stroke="#000" stroke-width="1.3" fill="none" stroke-linecap="square"/>
<path d="M220.3 4.4 H356.3 V320.9 H220.3" stroke="#000" stroke-width="1.3" fill="none" stroke-linecap="square"/>
<path d="M59.9 304.86h2.7 M356.3 304.86h-2.7 M59.9 293.21h2.7 M356.3 293.21h-2.7 M59.9 284.17h2.7 M356.3 284.17h-2.7 M59.9 276.79h2.7 M356.3 276.79h-2.7 M59.9 270.54h2.7 M356.3 270.54h-2.7 M59.9 265.14h2.7 M356.3 265.14h-2.7 M59.9 260.37h2.7 M356.3 260.37h-2.7 M59.9 256.1h4.3 M356.3 256.1h-4.3 M59.9 228.03h2.7 M356.3 228.03h-2.7 M59.9 211.61h2.7 M356.3 211.61h-2.7 M59.9 199.96h2.7 M356.3 199.96h-2.7 M59.9 190.92h2.7 M356.3 190.92h-2.7 M59.9 183.54h2.7 M356.3 183.54h-2.7 M59.9 177.29h2.7 M356.3 177.29h-2.7 M59.9 171.89h2.7 M356.3 171.89h-2.7 M59.9 167.12h2.7 M356.3 167.12h-2.7 M59.9 162.85h4.3 M356.3 162.85h-4.3 M59.9 134.78h2.7 M356.3 134.78h-2.7 M59.9 118.36h2.7 M356.3 118.36h-2.7 M59.9 106.71h2.7 M356.3 106.71h-2.7 M59.9 97.67h2.7 M356.3 97.67h-2.7 M59.9 90.29h2.7 M356.3 90.29h-2.7 M59.9 84.04h2.7 M356.3 84.04h-2.7 M59.9 78.64h2.7 M356.3 78.64h-2.7 M59.9 73.87h2.7 M356.3 73.87h-2.7 M59.9 69.6h4.3 M356.3 69.6h-4.3 M59.9 41.53h2.7 M356.3 41.53h-2.7 M59.9 25.11h2.7 M356.3 25.11h-2.7 M59.9 13.46h2.7 M356.3 13.46h-2.7 M72 320.9v-2.7 M72 4.4v2.7 M80.48 320.9v-2.7 M80.48 4.4v2.7 M87.06 320.9v-2.7 M87.06 4.4v2.7 M92.44 320.9v-2.7 M92.44 4.4v2.7 M96.98 320.9v-2.7 M96.98 4.4v2.7 M100.92 320.9v-2.7 M100.92 4.4v2.7 M104.39 320.9v-2.7 M104.39 4.4v2.7 M107.5 320.9v-4.3 M107.5 4.4v4.3 M127.94 320.9v-2.7 M127.94 4.4v2.7 M139.9 320.9v-2.7 M139.9 4.4v2.7 M148.38 320.9v-2.7 M148.38 4.4v2.7 M154.96 320.9v-2.7 M154.96 4.4v2.7 M160.34 320.9v-2.7 M160.34 4.4v2.7 M164.88 320.9v-2.7 M164.88 4.4v2.7 M168.82 320.9v-2.7 M168.82 4.4v2.7 M172.29 320.9v-2.7 M172.29 4.4v2.7 M175.4 320.9v-4.3 M175.4 4.4v4.3 M238.05 320.9v-2.7 M238.05 4.4v2.7 M248.51 320.9v-2.7 M248.51 4.4v2.7 M255.94 320.9v-2.7 M255.94 4.4v2.7 M261.7 320.9v-2.7 M261.7 4.4v2.7 M266.41 320.9v-2.7 M266.41 4.4v2.7 M270.39 320.9v-2.7 M270.39 4.4v2.7 M273.84 320.9v-2.7 M273.84 4.4v2.7 M276.88 320.9v-2.7 M276.88 4.4v2.7 M279.6 320.9v-4.3 M279.6 4.4v4.3 M297.5 320.9v-2.7 M297.5 4.4v2.7 M307.96 320.9v-2.7 M307.96 4.4v2.7 M315.39 320.9v-2.7 M315.39 4.4v2.7 M321.15 320.9v-2.7 M321.15 4.4v2.7 M325.86 320.9v-2.7 M325.86 4.4v2.7 M329.84 320.9v-2.7 M329.84 4.4v2.7 M333.29 320.9v-2.7 M333.29 4.4v2.7 M336.33 320.9v-2.7 M336.33 4.4v2.7 M339.05 320.9v-4.3 M339.05 4.4v4.3" stroke="#000" stroke-width="1.25" fill="none"/>
<line x1="193.7" y1="8.3" x2="198.1" y2="0.5" stroke="#000" stroke-width="1.9" stroke-linecap="butt"/>
<line x1="193.7" y1="324.8" x2="198.1" y2="317" stroke="#000" stroke-width="1.9" stroke-linecap="butt"/>
<line x1="218.1" y1="8.3" x2="222.5" y2="0.5" stroke="#000" stroke-width="1.9" stroke-linecap="butt"/>
<line x1="218.1" y1="324.8" x2="222.5" y2="317" stroke="#000" stroke-width="1.9" stroke-linecap="butt"/>
<text x="98.55" y="335.0" font-size="11.8" font-family="Liberation Serif, serif" fill="#000" stroke="#000" stroke-width="0.22" textLength="11.6" lengthAdjust="spacingAndGlyphs">10</text>
<text x="110.25" y="330.6" font-size="8.4" font-family="Liberation Serif, serif" fill="#000" stroke="#000" stroke-width="0.22" textLength="5.6" lengthAdjust="spacingAndGlyphs">3</text>
<text x="166.45" y="335.0" font-size="11.8" font-family="Liberation Serif, serif" fill="#000" stroke="#000" stroke-width="0.22" textLength="11.6" lengthAdjust="spacingAndGlyphs">10</text>
<text x="178.15" y="330.6" font-size="8.4" font-family="Liberation Serif, serif" fill="#000" stroke="#000" stroke-width="0.22" textLength="5.6" lengthAdjust="spacingAndGlyphs">4</text>
<text x="208.4" y="335.0" font-size="11.8" font-family="Liberation Serif, serif" fill="#000" stroke="#000" stroke-width="0.22" textLength="11.6" lengthAdjust="spacingAndGlyphs">10</text>
<text x="220.1" y="330.6" font-size="8.4" font-family="Liberation Serif, serif" fill="#000" stroke="#000" stroke-width="0.22" textLength="11.2" lengthAdjust="spacingAndGlyphs">11</text>
<text x="267.85" y="335.0" font-size="11.8" font-family="Liberation Serif, serif" fill="#000" stroke="#000" stroke-width="0.22" textLength="11.6" lengthAdjust="spacingAndGlyphs">10</text>
<text x="279.55" y="330.6" font-size="8.4" font-family="Liberation Serif, serif" fill="#000" stroke="#000" stroke-width="0.22" textLength="11.2" lengthAdjust="spacingAndGlyphs">12</text>
<text x="327.3" y="335.0" font-size="11.8" font-family="Liberation Serif, serif" fill="#000" stroke="#000" stroke-width="0.22" textLength="11.6" lengthAdjust="spacingAndGlyphs">10</text>
<text x="339" y="330.6" font-size="8.4" font-family="Liberation Serif, serif" fill="#000" stroke="#000" stroke-width="0.22" textLength="11.2" lengthAdjust="spacingAndGlyphs">13</text>
<text x="25.7" y="73.9" font-size="11.6" font-family="Liberation Serif, serif" fill="#000" stroke="#000" stroke-width="0.22" textLength="12.6" lengthAdjust="spacingAndGlyphs">10</text>
<text x="38.9" y="70.3" font-size="8.4" font-family="Liberation Serif, serif" fill="#000" stroke="#000" stroke-width="0.22" textLength="15" lengthAdjust="spacingAndGlyphs">−11</text>
<text x="25.7" y="167.15" font-size="11.6" font-family="Liberation Serif, serif" fill="#000" stroke="#000" stroke-width="0.22" textLength="12.6" lengthAdjust="spacingAndGlyphs">10</text>
<text x="38.9" y="163.55" font-size="8.4" font-family="Liberation Serif, serif" fill="#000" stroke="#000" stroke-width="0.22" textLength="15" lengthAdjust="spacingAndGlyphs">−12</text>
<text x="25.7" y="260.4" font-size="11.6" font-family="Liberation Serif, serif" fill="#000" stroke="#000" stroke-width="0.22" textLength="12.6" lengthAdjust="spacingAndGlyphs">10</text>
<text x="38.9" y="256.8" font-size="8.4" font-family="Liberation Serif, serif" fill="#000" stroke="#000" stroke-width="0.22" textLength="15" lengthAdjust="spacingAndGlyphs">−13</text>
<text x="249.4" y="352.6" font-size="14.6" font-family="Liberation Serif, serif" fill="#000" stroke="#000" stroke-width="0.08" textLength="78.2" lengthAdjust="spacingAndGlyphs">Energy (eV)</text>
<g transform="translate(14.3,217.2) rotate(-90)"><text x="0" y="0" font-size="13.6" font-family="Liberation Serif, serif" fill="#000" stroke="#000" stroke-width="0.08" textLength="108" lengthAdjust="spacingAndGlyphs"><tspan font-style="italic">ν</tspan>F<tspan font-style="italic" font-size="9" dy="2.4">ν</tspan><tspan dy="-2.4"> (erg/(cm</tspan><tspan font-size="9" dy="-5">2</tspan><tspan dy="5"> s))</tspan></text></g>
</g>
<g transform="translate(-2.9,378.6)">
<path d="M195.9 4.4 H59.9 M59.9 4.4 V320.9 H195.9" stroke="#000" stroke-width="1.3" fill="none" stroke-linecap="square"/>
<path d="M220.3 4.4 H356.3 V320.9 H220.3" stroke="#000" stroke-width="1.3" fill="none" stroke-linecap="square"/>
<path d="M59.9 304.86h2.7 M356.3 304.86h-2.7 M59.9 293.21h2.7 M356.3 293.21h-2.7 M59.9 284.17h2.7 M356.3 284.17h-2.7 M59.9 276.79h2.7 M356.3 276.79h-2.7 M59.9 270.54h2.7 M356.3 270.54h-2.7 M59.9 265.14h2.7 M356.3 265.14h-2.7 M59.9 260.37h2.7 M356.3 260.37h-2.7 M59.9 256.1h4.3 M356.3 256.1h-4.3 M59.9 228.03h2.7 M356.3 228.03h-2.7 M59.9 211.61h2.7 M356.3 211.61h-2.7 M59.9 199.96h2.7 M356.3 199.96h-2.7 M59.9 190.92h2.7 M356.3 190.92h-2.7 M59.9 183.54h2.7 M356.3 183.54h-2.7 M59.9 177.29h2.7 M356.3 177.29h-2.7 M59.9 171.89h2.7 M356.3 171.89h-2.7 M59.9 167.12h2.7 M356.3 167.12h-2.7 M59.9 162.85h4.3 M356.3 162.85h-4.3 M59.9 134.78h2.7 M356.3 134.78h-2.7 M59.9 118.36h2.7 M356.3 118.36h-2.7 M59.9 106.71h2.7 M356.3 106.71h-2.7 M59.9 97.67h2.7 M356.3 97.67h-2.7 M59.9 90.29h2.7 M356.3 90.29h-2.7 M59.9 84.04h2.7 M356.3 84.04h-2.7 M59.9 78.64h2.7 M356.3 78.64h-2.7 M59.9 73.87h2.7 M356.3 73.87h-2.7 M59.9 69.6h4.3 M356.3 69.6h-4.3 M59.9 41.53h2.7 M356.3 41.53h-2.7 M59.9 25.11h2.7 M356.3 25.11h-2.7 M59.9 13.46h2.7 M356.3 13.46h-2.7 M72 320.9v-2.7 M72 4.4v2.7 M80.48 320.9v-2.7 M80.48 4.4v2.7 M87.06 320.9v-2.7 M87.06 4.4v2.7 M92.44 320.9v-2.7 M92.44 4.4v2.7 M96.98 320.9v-2.7 M96.98 4.4v2.7 M100.92 320.9v-2.7 M100.92 4.4v2.7 M104.39 320.9v-2.7 M104.39 4.4v2.7 M107.5 320.9v-4.3 M107.5 4.4v4.3 M127.94 320.9v-2.7 M127.94 4.4v2.7 M139.9 320.9v-2.7 M139.9 4.4v2.7 M148.38 320.9v-2.7 M148.38 4.4v2.7 M154.96 320.9v-2.7 M154.96 4.4v2.7 M160.34 320.9v-2.7 M160.34 4.4v2.7 M164.88 320.9v-2.7 M164.88 4.4v2.7 M168.82 320.9v-2.7 M168.82 4.4v2.7 M172.29 320.9v-2.7 M172.29 4.4v2.7 M175.4 320.9v-4.3 M175.4 4.4v4.3 M238.05 320.9v-2.7 M238.05 4.4v2.7 M248.51 320.9v-2.7 M248.51 4.4v2.7 M255.94 320.9v-2.7 M255.94 4.4v2.7 M261.7 320.9v-2.7 M261.7 4.4v2.7 M266.41 320.9v-2.7 M266.41 4.4v2.7 M270.39 320.9v-2.7 M270.39 4.4v2.7 M273.84 320.9v-2.7 M273.84 4.4v2.7 M276.88 320.9v-2.7 M276.88 4.4v2.7 M279.6 320.9v-4.3 M279.6 4.4v4.3 M297.5 320.9v-2.7 M297.5 4.4v2.7 M307.96 320.9v-2.7 M307.96 4.4v2.7 M315.39 320.9v-2.7 M315.39 4.4v2.7 M321.15 320.9v-2.7 M321.15 4.4v2.7 M325.86 320.9v-2.7 M325.86 4.4v2.7 M329.84 320.9v-2.7 M329.84 4.4v2.7 M333.29 320.9v-2.7 M333.29 4.4v2.7 M336.33 320.9v-2.7 M336.33 4.4v2.7 M339.05 320.9v-4.3 M339.05 4.4v4.3" stroke="#000" stroke-width="1.25" fill="none"/>
<line x1="193.7" y1="8.3" x2="198.1" y2="0.5" stroke="#000" stroke-width="1.9" stroke-linecap="butt"/>
<line x1="193.7" y1="324.8" x2="198.1" y2="317" stroke="#000" stroke-width="1.9" stroke-linecap="butt"/>
<line x1="218.1" y1="8.3" x2="222.5" y2="0.5" stroke="#000" stroke-width="1.9" stroke-linecap="butt"/>
<line x1="218.1" y1="324.8" x2="222.5" y2="317" stroke="#000" stroke-width="1.9" stroke-linecap="butt"/>
<text x="98.55" y="335.0" font-size="11.8" font-family="Liberation Serif, serif" fill="#000" stroke="#000" stroke-width="0.22" textLength="11.6" lengthAdjust="spacingAndGlyphs">10</text>
<text x="110.25" y="330.6" font-size="8.4" font-family="Liberation Serif, serif" fill="#000" stroke="#000" stroke-width="0.22" textLength="5.6" lengthAdjust="spacingAndGlyphs">3</text>
<text x="166.45" y="335.0" font-size="11.8" font-family="Liberation Serif, serif" fill="#000" stroke="#000" stroke-width="0.22" textLength="11.6" lengthAdjust="spacingAndGlyphs">10</text>
<text x="178.15" y="330.6" font-size="8.4" font-family="Liberation Serif, serif" fill="#000" stroke="#000" stroke-width="0.22" textLength="5.6" lengthAdjust="spacingAndGlyphs">4</text>
<text x="208.4" y="335.0" font-size="11.8" font-family="Liberation Serif, serif" fill="#000" stroke="#000" stroke-width="0.22" textLength="11.6" lengthAdjust="spacingAndGlyphs">10</text>
<text x="220.1" y="330.6" font-size="8.4" font-family="Liberation Serif, serif" fill="#000" stroke="#000" stroke-width="0.22" textLength="11.2" lengthAdjust="spacingAndGlyphs">11</text>
<text x="267.85" y="335.0" font-size="11.8" font-family="Liberation Serif, serif" fill="#000" stroke="#000" stroke-width="0.22" textLength="11.6" lengthAdjust="spacingAndGlyphs">10</text>
<text x="279.55" y="330.6" font-size="8.4" font-family="Liberation Serif, serif" fill="#000" stroke="#000" stroke-width="0.22" textLength="11.2" lengthAdjust="spacingAndGlyphs">12</text>
<text x="327.3" y="335.0" font-size="11.8" font-family="Liberation Serif, serif" fill="#000" stroke="#000" stroke-width="0.22" textLength="11.6" lengthAdjust="spacingAndGlyphs">10</text>
<text x="339" y="330.6" font-size="8.4" font-family="Liberation Serif, serif" fill="#000" stroke="#000" stroke-width="0.22" textLength="11.2" lengthAdjust="spacingAndGlyphs">13</text>
<text x="25.7" y="73.9" font-size="11.6" font-family="Liberation Serif, serif" fill="#000" stroke="#000" stroke-width="0.22" textLength="12.6" lengthAdjust="spacingAndGlyphs">10</text>
<text x="38.9" y="70.3" font-size="8.4" font-family="Liberation Serif, serif" fill="#000" stroke="#000" stroke-width="0.22" textLength="15" lengthAdjust="spacingAndGlyphs">−11</text>
<text x="25.7" y="167.15" font-size="11.6" font-family="Liberation Serif, serif" fill="#000" stroke="#000" stroke-width="0.22" textLength="12.6" lengthAdjust="spacingAndGlyphs">10</text>
<text x="38.9" y="163.55" font-size="8.4" font-family="Liberation Serif, serif" fill="#000" stroke="#000" stroke-width="0.22" textLength="15" lengthAdjust="spacingAndGlyphs">−12</text>
<text x="25.7" y="260.4" font-size="11.6" font-family="Liberation Serif, serif" fill="#000" stroke="#000" stroke-width="0.22" textLength="12.6" lengthAdjust="spacingAndGlyphs">10</text>
<text x="38.9" y="256.8" font-size="8.4" font-family="Liberation Serif, serif" fill="#000" stroke="#000" stroke-width="0.22" textLength="15" lengthAdjust="spacingAndGlyphs">−13</text>
<text x="249.4" y="352.6" font-size="14.6" font-family="Liberation Serif, serif" fill="#000" stroke="#000" stroke-width="0.08" textLength="78.2" lengthAdjust="spacingAndGlyphs">Energy (eV)</text>
<g transform="translate(14.3,217.2) rotate(-90)"><text x="0" y="0" font-size="13.6" font-family="Liberation Serif, serif" fill="#000" stroke="#000" stroke-width="0.08" textLength="108" lengthAdjust="spacingAndGlyphs"><tspan font-style="italic">ν</tspan>F<tspan font-style="italic" font-size="9" dy="2.4">ν</tspan><tspan dy="-2.4"> (erg/(cm</tspan><tspan font-size="9" dy="-5">2</tspan><tspan dy="5"> s))</tspan></text></g>
</g>
<rect x="64.3" y="9.4" width="120.5" height="56" rx="2" ry="2" fill="#fff" fill-opacity="0.8" stroke="#cccccc" stroke-width="1.15"/><path d="M67 16.6H87.2" stroke="#1f77b4" stroke-width="1.5"/><circle cx="77.2" cy="16.6" r="2.5" stroke="#1f77b4" stroke-width="1.5" fill="none"/><text x="94.3" y="20.2" font-family="Liberation Serif, serif" font-size="11.2" fill="#000" stroke="#000" stroke-width="0.22" textLength="83" lengthAdjust="spacingAndGlyphs">MJD 55585-55600</text><path d="M67 30.05H87.2" stroke="#ff7f0e" stroke-width="1.5"/><rect x="74.7" y="27.55" width="5" height="5" stroke="#ff7f0e" stroke-width="1.5" fill="none"/><text x="94.3" y="33.65" font-family="Liberation Serif, serif" font-size="11.2" fill="#000" stroke="#000" stroke-width="0.22" textLength="83" lengthAdjust="spacingAndGlyphs">MJD 55600-55603</text><path d="M67 43.5H87.2" stroke="#9467bd" stroke-width="1.5"/><circle cx="77.2" cy="43.5" r="2.5" stroke="#9467bd" stroke-width="1.5" fill="none"/><text x="94.3" y="47.1" font-family="Liberation Serif, serif" font-size="11.2" fill="#000" stroke="#000" stroke-width="0.22" textLength="83" lengthAdjust="spacingAndGlyphs">MJD 55614-55623</text><path d="M67 56.95H87.2" stroke="#8c564b" stroke-width="1.5"/><rect x="74.7" y="54.45" width="5" height="5" stroke="#8c564b" stroke-width="1.5" fill="none"/><text x="94.3" y="60.55" font-family="Liberation Serif, serif" font-size="11.2" fill="#000" stroke="#000" stroke-width="0.22" textLength="83" lengthAdjust="spacingAndGlyphs">MJD 55624-55631</text>
<rect x="61.3" y="388" width="88.7" height="82.2" rx="2" ry="2" fill="#fff" fill-opacity="0.8" stroke="#cccccc" stroke-width="1.15"/><path d="M64 395H84.6" stroke="#1f77b4" stroke-width="1.5"/><circle cx="74.3" cy="395" r="2.5" stroke="#1f77b4" stroke-width="1.5" fill="none"/><text x="91.1" y="398.6" font-family="Liberation Serif, serif" font-size="11.2" fill="#000" stroke="#000" stroke-width="0.22" textLength="52.5" lengthAdjust="spacingAndGlyphs">MJD 58136</text><path d="M64 408.42H84.6" stroke="#ff7f0e" stroke-width="1.5"/><rect x="71.8" y="405.92" width="5" height="5" stroke="#ff7f0e" stroke-width="1.5" fill="none"/><text x="91.1" y="412.02" font-family="Liberation Serif, serif" font-size="11.2" fill="#000" stroke="#000" stroke-width="0.22" textLength="52.5" lengthAdjust="spacingAndGlyphs">MJD 58141</text><path d="M64 421.84H84.6" stroke="#2ca02c" stroke-width="1.5"/><path d="M71.92 419.46L76.67 419.46L74.3 424.21Z" stroke="#2ca02c" stroke-width="1.5" fill="none"/><text x="91.1" y="425.44" font-family="Liberation Serif, serif" font-size="11.2" fill="#000" stroke="#000" stroke-width="0.22" textLength="52.5" lengthAdjust="spacingAndGlyphs">MJD 58142</text><path d="M64 435.26H84.6" stroke="#d62728" stroke-width="1.5"/><path d="M71.92 437.63L76.67 437.63L74.3 432.88Z" stroke="#d62728" stroke-width="1.5" fill="none"/><text x="91.1" y="438.86" font-family="Liberation Serif, serif" font-size="11.2" fill="#000" stroke="#000" stroke-width="0.22" textLength="52.5" lengthAdjust="spacingAndGlyphs">MJD 58143</text><path d="M64 448.68H84.6" stroke="#9467bd" stroke-width="1.5"/><path d="M74.3 446.18L74.96 447.77L76.68 447.91L75.37 449.03L75.77 450.7L74.3 449.81L72.83 450.7L73.23 449.03L71.92 447.91L73.64 447.77Z" fill="none" stroke="#9467bd" stroke-width="1.2" stroke-linejoin="miter"/><text x="91.1" y="452.28" font-family="Liberation Serif, serif" font-size="11.2" fill="#000" stroke="#000" stroke-width="0.22" textLength="52.5" lengthAdjust="spacingAndGlyphs">MJD 58152</text><path d="M64 462.1H84.6" stroke="#8c564b" stroke-width="1.5"/><path d="M73.25 459.1H75.35V461.05H77.3V463.15H75.35V465.1H73.25V463.15H71.3V461.05H73.25Z" fill="none" stroke="#8c564b" stroke-width="1.2"/><text x="91.1" y="465.7" font-family="Liberation Serif, serif" font-size="11.2" fill="#000" stroke="#000" stroke-width="0.22" textLength="52.5" lengthAdjust="spacingAndGlyphs">MJD 58153</text>
</svg></body></html>
